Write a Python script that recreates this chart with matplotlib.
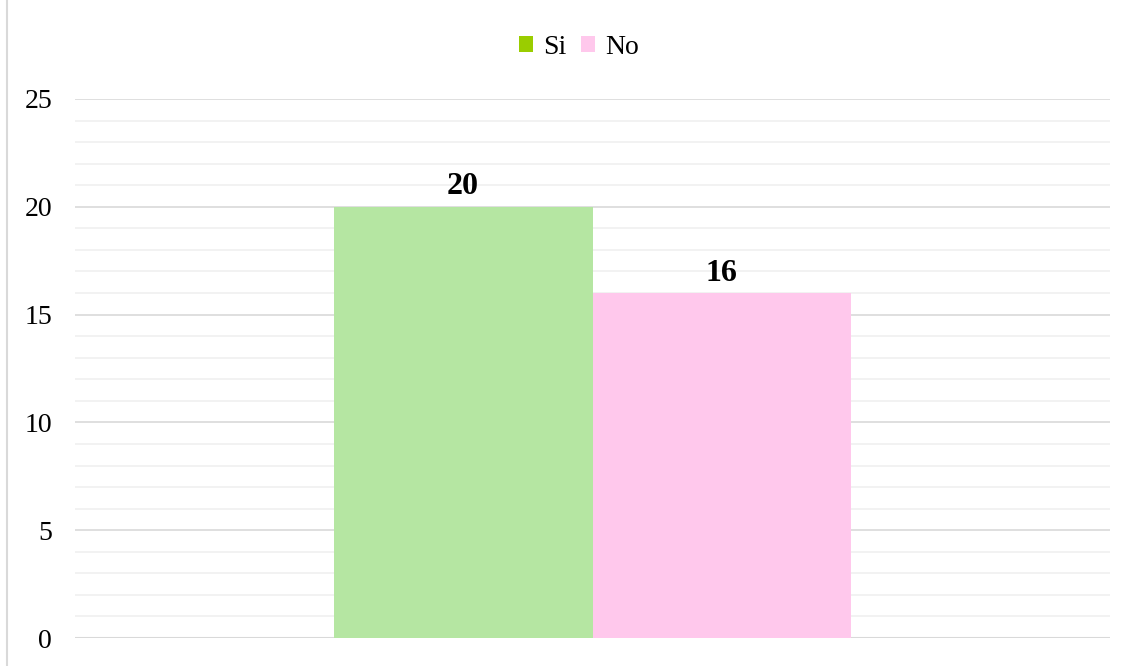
import matplotlib.pyplot as plt
from matplotlib.patches import Patch
from matplotlib.lines import Line2D
from matplotlib.ticker import MultipleLocator

plt.rcParams['font.family'] = ['Liberation Serif', 'DejaVu Serif']

series = ["Si", "No"]
values = [20, 16]
bar_colors = ["#B5E6A2", "#FFC8EC"]
legend_colors = ["#9ACD00", "#FFC8EC"]

fig = plt.figure(figsize=(11.36, 6.66), dpi=100)
ax = fig.add_axes([75 / 1136, 1 - 638 / 666, 1035 / 1136, 539 / 666])

width = 0.25
offsets = [-width / 2, width / 2]
for off, v, c in zip(offsets, values, bar_colors):
    ax.bar(off, v, width=width, color=c, zorder=3)
    ax.text(off, v + 0.25, str(v), ha="center", va="bottom",
            fontsize=23, fontweight="bold", color="#000000")

ax.set_xlim(-0.5, 0.5)
ax.set_ylim(0, 25)
ax.yaxis.set_major_locator(MultipleLocator(5))
ax.yaxis.set_minor_locator(MultipleLocator(1))
ax.grid(True, which="major", axis="y", color="#D9D9D9", linewidth=1.2, zorder=0)
ax.grid(True, which="minor", axis="y", color="#F0F0F0", linewidth=1.2, zorder=0)
ax.set_xticks([])
for s in ax.spines.values():
    s.set_visible(False)
ax.tick_params(axis="y", which="both", length=0, labelsize=20, pad=16.5)
ax.axhline(0, color="#D9D9D9", linewidth=1.5, zorder=2)

# thin vertical frame line at left edge
fig.add_artist(Line2D([7 / 1136, 7 / 1136], [0, 1], color="#D9D9D9", linewidth=1.5))

handles = [Patch(facecolor=c, edgecolor="none", label=s) for s, c in zip(series, legend_colors)]
fig.legend(handles=handles, loc="center", bbox_to_anchor=(579 / 1136, 1 - 47 / 666),
           ncol=2, frameon=False, fontsize=20, handlelength=0.5, handleheight=0.5,
           handletextpad=0.35, columnspacing=0.55)

fig.savefig("out.png", dpi=100)
